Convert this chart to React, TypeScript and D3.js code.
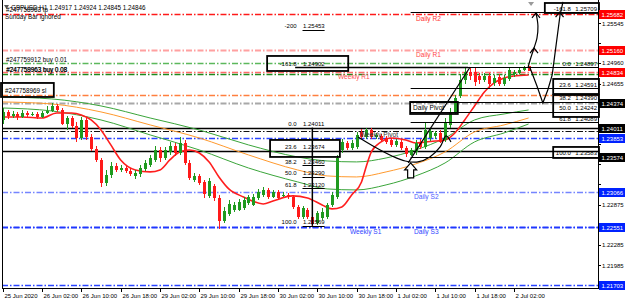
import * as d3 from "d3";
import { useEffect, useRef } from "react";

// GBPUSD H1, bar 0 = 25 Jun 18:00, last bar = 2 Jul 05:00
const barOpen = [
  1.24124, 1.24242, 1.24183, 1.24212, 1.24168, 1.24227, 1.24198, 1.24212, 1.24168, 1.24227,
  1.24256, 1.2433, 1.24271, 1.24065, 1.24153, 1.24036, 1.23859, 1.24124, 1.23874, 1.23698,
  1.23536, 1.23198, 1.23316, 1.23448, 1.23389, 1.23418, 1.23374, 1.23301, 1.2333, 1.23404,
  1.23463, 1.23536, 1.23683, 1.23565, 1.23654, 1.23742, 1.23639, 1.23786, 1.23492, 1.23242,
  1.23301, 1.23213, 1.23007, 1.23154, 1.22977, 1.22639, 1.22742, 1.22801, 1.22801, 1.2283,
  1.22904, 1.22875, 1.22977, 1.23022, 1.23095, 1.22992, 1.23066, 1.23007, 1.23022, 1.22992,
  1.22845, 1.22698, 1.22801, 1.22698, 1.2261, 1.22684, 1.22698, 1.22875, 1.22992, 1.23683,
  1.23786, 1.23712, 1.23727, 1.23948, 1.23874, 1.23977, 1.23874, 1.23889, 1.23859, 1.2383,
  1.23757, 1.23801, 1.23712, 1.2361, 1.23654, 1.23786, 1.23727, 1.23859, 1.23889, 1.23933,
  1.2383, 1.24051, 1.24242, 1.24477, 1.24712, 1.2483, 1.2483, 1.24771, 1.24712, 1.24771,
  1.24668, 1.24756, 1.24653, 1.24727, 1.248, 1.24815, 1.24859, 1.24917,
];
const barHigh = [
  1.243, 1.24271, 1.24256, 1.24242, 1.24271, 1.24256, 1.24242, 1.24242, 1.24256, 1.2433,
  1.24374, 1.24359, 1.243, 1.24183, 1.24183, 1.24095, 1.24168, 1.24153, 1.23918, 1.23742,
  1.23565, 1.23389, 1.23507, 1.23492, 1.23463, 1.23463, 1.23418, 1.23389, 1.23463, 1.23536,
  1.2361, 1.23742, 1.23727, 1.23727, 1.23801, 1.23786, 1.23874, 1.2383, 1.23536, 1.23345,
  1.2333, 1.23242, 1.23272, 1.23183, 1.23022, 1.22845, 1.22948, 1.22919, 1.22963, 1.22992,
  1.23022, 1.23036, 1.2311, 1.23139, 1.23124, 1.23095, 1.23095, 1.23066, 1.23051, 1.23022,
  1.22875, 1.2286, 1.2283, 1.22728, 1.22786, 1.2283, 1.22904, 1.23066, 1.2361, 1.23845,
  1.23815, 1.2383, 1.23948, 1.23992, 1.24011, 1.24007, 1.23933, 1.23918, 1.23889, 1.23859,
  1.23845, 1.2383, 1.23742, 1.23712, 1.2383, 1.23845, 1.24095, 1.24007, 1.23962, 1.23977,
  1.24153, 1.243, 1.24491, 1.248, 1.24888, 1.24888, 1.24888, 1.24815, 1.24815, 1.24815,
  1.24786, 1.248, 1.24786, 1.24897, 1.24859, 1.24888, 1.2492, 1.24924,
];
const barLow = [
  1.24065, 1.24139, 1.24153, 1.24124, 1.24153, 1.24168, 1.24183, 1.24139, 1.24153, 1.24212,
  1.24242, 1.24242, 1.24051, 1.23977, 1.24007, 1.23801, 1.2383, 1.2383, 1.23668, 1.23507,
  1.23139, 1.23154, 1.23272, 1.2336, 1.2336, 1.23345, 1.23301, 1.23257, 1.23286, 1.23374,
  1.23433, 1.23507, 1.23507, 1.23536, 1.2361, 1.23595, 1.2361, 1.23463, 1.23242, 1.23213,
  1.23169, 1.22977, 1.22977, 1.22933, 1.22522, 1.2261, 1.22713, 1.22772, 1.22786, 1.22801,
  1.22875, 1.2286, 1.22948, 1.22992, 1.22963, 1.22977, 1.22948, 1.22992, 1.22963, 1.22816,
  1.22669, 1.22669, 1.22669, 1.22569, 1.22581, 1.22654, 1.22669, 1.22845, 1.22963, 1.23639,
  1.23683, 1.23683, 1.23698, 1.23845, 1.23845, 1.23845, 1.23845, 1.23801, 1.23771, 1.23727,
  1.23727, 1.23683, 1.23583, 1.23595, 1.2361, 1.23698, 1.23698, 1.23815, 1.23845, 1.23786,
  1.23801, 1.24007, 1.24212, 1.24447, 1.24653, 1.24712, 1.24624, 1.24653, 1.24683, 1.24594,
  1.24624, 1.24624, 1.24624, 1.24697, 1.24756, 1.248, 1.24844, 1.24845,
];
const barClose = [
  1.24242, 1.24183, 1.24212, 1.24168, 1.24227, 1.24198, 1.24212, 1.24168, 1.24227, 1.24256,
  1.2433, 1.24271, 1.24065, 1.24153, 1.24036, 1.23859, 1.24124, 1.23874, 1.23698, 1.23536,
  1.23198, 1.23316, 1.23448, 1.23389, 1.23418, 1.23374, 1.2333, 1.23345, 1.23418, 1.23492,
  1.23565, 1.23683, 1.23565, 1.23683, 1.23742, 1.23639, 1.23786, 1.23492, 1.23272, 1.23301,
  1.23198, 1.23036, 1.23227, 1.22977, 1.22639, 1.22786, 1.22889, 1.22875, 1.22919, 1.22948,
  1.22992, 1.22992, 1.23066, 1.23095, 1.22992, 1.23066, 1.22977, 1.23022, 1.22992, 1.22845,
  1.22698, 1.2283, 1.22698, 1.22595, 1.22757, 1.22772, 1.22875, 1.23022, 1.23565, 1.23801,
  1.23712, 1.23786, 1.23904, 1.23874, 1.23977, 1.23874, 1.23904, 1.2383, 1.23801, 1.23757,
  1.23815, 1.23712, 1.23624, 1.23683, 1.23786, 1.23727, 1.23977, 1.23962, 1.23933, 1.23801,
  1.24095, 1.24242, 1.24447, 1.24712, 1.2483, 1.24771, 1.24683, 1.24712, 1.24771, 1.24653,
  1.24741, 1.24653, 1.24741, 1.24859, 1.2483, 1.24859, 1.2491, 1.24846,
];

const timeTickBars = [0, 8, 16, 24, 32, 40, 48, 56, 64, 72, 80, 88, 96, 104];
const timeTickLabels = [
  "25 Jun 2020", "26 Jun 02:00", "26 Jun 10:00", "26 Jun 18:00", "29 Jun 02:00",
  "29 Jun 10:00", "29 Jun 18:00", "30 Jun 02:00", "30 Jun 10:00", "30 Jun 18:00",
  "1 Jul 02:00", "1 Jul 10:00", "1 Jul 18:00", "2 Jul 02:00",
];
const priceTicks = [
  1.25545, 1.2526, 1.2496, 1.24655, 1.2436, 1.24065, 1.23765, 1.2347, 1.23175, 1.22875,
  1.2258, 1.22285, 1.21985,
];

// indicator lines, read at a few bars
const redMaBars = [
  0, 4, 8, 11, 14, 16, 18, 20, 22, 24, 27, 30, 32, 34, 36, 38, 40, 42, 44, 46, 49, 53, 55, 59,
  62, 65, 67, 69, 71, 73, 74, 75, 77, 79, 82, 84, 86, 88, 90, 92, 94, 96, 98, 100, 102, 104, 107,
];
const redMaValues = [
  1.24168, 1.24168, 1.24153, 1.24227, 1.24227, 1.24198, 1.24124, 1.23977, 1.23757, 1.23536,
  1.23389, 1.2336, 1.23389, 1.23536, 1.23654, 1.23683, 1.23639, 1.23507, 1.23286, 1.2311,
  1.22992, 1.22889, 1.22933, 1.23007, 1.22977, 1.22875, 1.22816, 1.22845, 1.23022, 1.23213,
  1.23448, 1.23654, 1.23801, 1.23859, 1.2383, 1.23786, 1.23801, 1.23815, 1.2383, 1.23933,
  1.24124, 1.2433, 1.24536, 1.24668, 1.24741, 1.24771, 1.24785,
];
const bandBars = [0, 10, 20, 30, 40, 50, 60, 66, 72, 78, 84, 90, 96, 102, 107];
const bandUpper = [
  1.24462, 1.24433, 1.2433, 1.24153, 1.23977, 1.23757, 1.2358, 1.23521, 1.23507, 1.23565,
  1.23683, 1.23859, 1.24124, 1.24212, 1.24271,
];
const bandMiddle = [
  1.24389, 1.24359, 1.24242, 1.24051, 1.23859, 1.2361, 1.23389, 1.23301, 1.23286, 1.2336,
  1.23477, 1.23654, 1.23948, 1.24051, 1.24153,
];
const bandLower = [
  1.243, 1.24256, 1.24124, 1.23904, 1.23683, 1.23418, 1.23213, 1.2311, 1.23095, 1.23169,
  1.23301, 1.23492, 1.23801, 1.23933, 1.24065,
];

const pivotNames = ["Daily R2", "Daily R1", "Weekly R1", "Daily Pivot", "Weekly Pivot", "Daily S2", "Weekly S1", "Daily S3"];
const pivotPrices = [1.25682, 1.2516, 1.24834, 1.24374, 1.23962, 1.23066, 1.22551, 1.22551];

const orderLabels = ["#247759912 buy 0.01", "#247758963 buy 0.08", "#247758969 sl"];
const orderPrices = [1.24962, 1.248, 1.24491];

const leftFibNames = ["-200", "-161.8", "0.0", "23.6", "38.2", "50.0", "61.8", "100.0"];
const leftFibPrices = [1.25453, 1.24902, 1.24011, 1.23674, 1.2346, 1.2329, 1.2312, 1.22569];
const rightFibNames = ["-161.8", "0.0", "23.6", "38.2", "50.0", "61.8", "100.0"];
const rightFibPrices = [1.25709, 1.24897, 1.24591, 1.2439, 1.24242, 1.24089, 1.23583];

const markerPrices = [1.25682, 1.2516, 1.24834, 1.24374, 1.24011, 1.23853, 1.23574, 1.23066, 1.22551, 1.21703];
const markerKinds = ["r", "r", "r", "k", "k", "b", "k", "b", "b", "b"];

// label frames (bar from, bar to, price top, price bottom)
const boxFrom = [53.8, 54.4, 82.9, -0.4, 110.3, 112, 112, 112];
const boxTo = [70.3, 68.6, 92.6, 10.4, 121.5, 121.5, 121.5, 121.5];
const boxTop = [1.25065, 1.2383, 1.24389, 1.24668, 1.25844, 1.24727, 1.24491, 1.23727];
const boxBottom = [1.24844, 1.2358, 1.24212, 1.24462, 1.25697, 1.24506, 1.24168, 1.23565];

// hand drawn strokes
const swoopBars = [72.3, 75.7, 79.2, 81.9, 84.5, 86.9, 89.0, 90.2, 91.2];
const swoopPrices = [1.23874, 1.23727, 1.23595, 1.23521, 1.23507, 1.2358, 1.23727, 1.23889, 1.23801];
const riseBars = [82.5, 95.1];
const risePrices = [1.23492, 1.24903];
const upBars = [106.9, 107.5, 108.1, 108.7, 108.9, 108.5];
const upPrices = [1.24903, 1.2505, 1.25182, 1.25329, 1.25506, 1.25697];
const vBars = [107.3, 108.7, 109.9, 110.9, 111.8, 112.6, 113.4, 114.0];
const vPrices = [1.24888, 1.24624, 1.24374, 1.24565, 1.24786, 1.25227, 1.25668, 1.25859];
const capBars = [108.1, 108.5, 113.3];
const capPrices = [1.25182, 1.25697, 1.2571];

const FONT = "Liberation Sans, Arial, sans-serif";
const DASHDOT = "6,2,1.5,2";

const pivotStyle: Record<string, { stroke: string; width: number; text: string; lx: number; dy: number }> = {
  "Daily R2": { stroke: "#ff1a1a", width: 1.5, text: "#ff3030", lx: 416, dy: 7 },
  "Daily R1": { stroke: "#ffa0a0", width: 2, text: "#ff4848", lx: 416, dy: 7 },
  "Weekly R1": { stroke: "#ff6a6a", width: 1.5, text: "#ff5050", lx: 338, dy: 7 },
  "Daily Pivot": { stroke: "#a8a8a8", width: 2, text: "#000", lx: 413, dy: 7 },
  "Weekly Pivot": { stroke: "#111", width: 1, text: "#333", lx: 360, dy: 6 },
  "Daily S2": { stroke: "#7585ff", width: 1.5, text: "#4c5cff", lx: 414, dy: 7 },
  "Weekly S1": { stroke: "#2038ff", width: 2, text: "#3044ff", lx: 350, dy: 7 },
  "Daily S3": { stroke: "#2038ff", width: 1, text: "#3044ff", lx: 414, dy: 7 },
};
const orderColors = ["#5cb85c", "#1e8c1e", "#ff7f3f"];
const markerFill: Record<string, string> = { r: "#ff0000", k: "#000000", b: "#0022ff" };

export default function App() {
  const ref = useRef<SVGSVGElement>(null);

  useEffect(() => {
    const svg = d3.select(ref.current!);
    svg.selectAll("*").remove();

    const x = d3.scaleLinear().domain([0, 121]).range([2.7, 2.7 + 121 * 4.915]);
    const y = d3.scaleLinear().domain([1.21653, 1.25888]).range([288, 0]);
    const cy = (p: number) => Math.round(y(p)) + 0.5;

    svg.append("rect").attr("width", 625).attr("height", 300).attr("fill", "#fff");
    svg.append("defs").append("clipPath").attr("id", "plotClip")
      .append("rect").attr("x", 2).attr("y", 0).attr("width", 596).attr("height", 288);
    const plot = svg.append("g").attr("clip-path", "url(#plotClip)");

    const hline = (p: number, color: string, w: number, dash: string | null, x0 = 2, x1 = 598) =>
      plot.append("line")
        .attr("x1", x0).attr("x2", x1).attr("y1", cy(p)).attr("y2", cy(p))
        .attr("stroke", color).attr("stroke-width", w)
        .attr("stroke-dasharray", dash);

    const label = (g: any, tx: number, ty: number, s: string, color = "#000", size = 6.3, anchor = "start") =>
      g.append("text").attr("x", tx).attr("y", ty).attr("fill", color)
        .attr("font-family", FONT).attr("font-size", size).attr("text-anchor", anchor).text(s);

    // horizontal levels
    hline(1.24011, "#000", 1.5, null);
    hline(1.23674, "#000", 1.5, null);
    hline(1.23853, "#2a45ff", 1.5, DASHDOT);
    hline(1.21703, "#2a45ff", 1.5, DASHDOT);
    orderPrices.forEach((p, i) => hline(p, orderColors[i], 1.5, DASHDOT));
    pivotNames.forEach((n, i) => {
      const st = pivotStyle[n];
      hline(pivotPrices[i], st.stroke, st.width, DASHDOT);
    });

    // indicator lines
    const bandLine = (vals: number[]) =>
      d3.line<number>().x((_, i) => x(bandBars[i])).y((v) => y(v)).curve(d3.curveMonotoneX)(vals);
    plot.append("path").attr("d", bandLine(bandUpper)).attr("fill", "none").attr("stroke", "#3aa53a").attr("stroke-width", 1);
    plot.append("path").attr("d", bandLine(bandMiddle)).attr("fill", "none").attr("stroke", "#ff9a2e").attr("stroke-width", 1);
    plot.append("path").attr("d", bandLine(bandLower)).attr("fill", "none").attr("stroke", "#3aa53a").attr("stroke-width", 1);
    const redLine = d3.line<number>().x((_, i) => x(redMaBars[i])).y((v) => y(v)).curve(d3.curveMonotoneX);
    plot.append("path").attr("d", redLine(redMaValues)).attr("fill", "none").attr("stroke", "#ff1e1e").attr("stroke-width", 1.6);

    // candles
    const candles = plot.append("g").attr("shape-rendering", "crispEdges");
    barOpen.forEach((o, i) => {
      const c = barClose[i];
      const col = c >= o ? "#1f9a1f" : "#ff1a1a";
      const cx = Math.round(x(i)) + 0.5;
      candles.append("line").attr("x1", cx).attr("x2", cx)
        .attr("y1", y(barHigh[i])).attr("y2", y(barLow[i])).attr("stroke", col).attr("stroke-width", 1);
      const top = y(Math.max(o, c));
      const h = Math.max(1, y(Math.min(o, c)) - top);
      candles.append("rect").attr("x", cx - 1.5).attr("y", top).attr("width", 3).attr("height", h).attr("fill", col);
    });

    // left fibonacci
    leftFibPrices.forEach((p, i) => {
      const name = leftFibNames[i];
      const x0 = name === "-161.8" ? x(59.5) : x(61);
      const x1 = name === "-161.8" ? x(94.7) : x(65.5);
      plot.append("line").attr("x1", x0).attr("x2", x1).attr("y1", cy(p)).attr("y2", cy(p))
        .attr("stroke", "#000").attr("stroke-width", name === "-161.8" ? 1.5 : 1);
      label(plot, x(59.8), y(p) - 1.5, name, "#000", 6, "end");
      label(plot, x(61.1), y(p) - 1.5, p.toFixed(5), "#000", 6);
    });
    plot.append("line").attr("x1", x(63)).attr("x2", x(63))
      .attr("y1", y(leftFibPrices[2])).attr("y2", y(leftFibPrices[7]))
      .attr("stroke", "#000").attr("stroke-width", 1.5);

    // right fibonacci
    rightFibPrices.forEach((p, i) => {
      plot.append("line").attr("x1", x(83)).attr("x2", 598).attr("y1", cy(p)).attr("y2", cy(p))
        .attr("stroke", "#000").attr("stroke-width", 1);
      label(plot, x(115.6), y(p) - 1.5, rightFibNames[i], "#000", 6, "end");
      label(plot, x(116.5), y(p) - 1.5, p.toFixed(5), "#000", 6);
    });

    // pivot and order labels
    pivotNames.forEach((n, i) => {
      const st = pivotStyle[n];
      label(plot, st.lx, y(pivotPrices[i]) + st.dy, n, st.text, 6.6);
    });
    label(plot, 6, y(orderPrices[0]) - 1, orderLabels[0], "#000", 6.3);
    label(plot, 6, y(orderPrices[1]) - 2, orderLabels[1], "#000", 6.3);
    label(plot, 6.4, y(orderPrices[1]) - 2, "#247759963 buy 0.08", "#000", 6.3);
    label(plot, 5, y(orderPrices[2]) - 2, orderLabels[2], "#000", 6.3);

    // frames
    boxFrom.forEach((b, i) => {
      const x0 = Math.max(1, x(b));
      const x1 = Math.min(599, x(boxTo[i]));
      svg.append("rect").attr("x", x0).attr("y", y(boxTop[i]))
        .attr("width", x1 - x0).attr("height", y(boxBottom[i]) - y(boxTop[i]))
        .attr("fill", "none").attr("stroke", "#000").attr("stroke-width", 1.8);
    });

    // hand drawn strokes
    const stroke = (bars: number[], prices: number[], curve: any) =>
      plot.append("path")
        .attr("d", d3.line<number>().x((_, i) => x(bars[i])).y((p) => y(p)).curve(curve)(prices))
        .attr("fill", "none").attr("stroke", "#000").attr("stroke-width", 1.2);
    stroke(swoopBars, swoopPrices, d3.curveCatmullRom);
    stroke(riseBars, risePrices, d3.curveLinear);
    stroke(upBars, upPrices, d3.curveCatmullRom);
    stroke(vBars, vPrices, d3.curveLinear);
    capBars.forEach((b, i) => {
      const px = x(b), py = y(capPrices[i]);
      plot.append("path").attr("d", `M${px - 4},${py + 5}L${px},${py}L${px + 4},${py + 5}`)
        .attr("fill", "none").attr("stroke", "#000").attr("stroke-width", 1.2);
    });
    const ax = x(83), ay = y(1.23492);
    plot.append("path")
      .attr("d", `M${ax},${ay}L${ax - 6},${ay + 7}L${ax - 3},${ay + 7}L${ax - 3},${ay + 15}L${ax + 3},${ay + 15}L${ax + 3},${ay + 7}L${ax + 6},${ay + 7}Z`)
      .attr("fill", "#fff").attr("stroke", "#000").attr("stroke-width", 1.2);
    plot.append("path").attr("d", `M${x(107.5) - 3},2L${x(107.5) + 3},2L${x(107.5)},6Z`).attr("fill", "#9a9a9a");

    // header
    svg.append("path").attr("d", "M4,5L9,5L6.5,9Z").attr("fill", "#555");
    label(svg, 6, 12, "#247758963 tp", "#000", 6.3);
    label(svg, 11, 9.5, "GBPUSD,H1  1.24917 1.24924 1.24845 1.24846", "#000", 6.3);
    label(svg, 5, 19, "Sunday Bar ignored", "#000", 6.3);

    // frame and axes
    svg.append("line").attr("x1", 2.5).attr("x2", 2.5).attr("y1", 0).attr("y2", 288).attr("stroke", "#000");
    svg.append("line").attr("x1", 598.5).attr("x2", 598.5).attr("y1", 0).attr("y2", 289).attr("stroke", "#000");
    svg.append("line").attr("x1", 2).attr("x2", 599).attr("y1", 288.5).attr("y2", 288.5).attr("stroke", "#000");

    timeTickBars.forEach((b, i) => {
      const tx = Math.round(x(b)) + 0.5;
      svg.append("line").attr("x1", tx).attr("x2", tx).attr("y1", 288).attr("y2", 292).attr("stroke", "#000");
      label(svg, tx + 1, 297.5, timeTickLabels[i], "#000", 6);
    });
    // grid prices hidden behind a highlighted marker are not labelled
    priceTicks.forEach((p) => {
      svg.append("line").attr("x1", 598).attr("x2", 601).attr("y1", cy(p)).attr("y2", cy(p)).attr("stroke", "#000");
      const covered = markerPrices.some((m) => Math.abs(y(m) - y(p)) < 8);
      if (!covered) label(svg, 602, y(p) + 2.2, p.toFixed(5), "#000", 6);
    });
    markerPrices.forEach((p, i) => {
      const my = Math.round(y(p));
      svg.append("rect").attr("x", 599).attr("y", my - 4).attr("width", 26).attr("height", 9)
        .attr("fill", markerFill[markerKinds[i]]);
      label(svg, 601.5, my + 2.5, p.toFixed(5), "#fff", 6);
    });
  }, []);

  return (
    <svg
      ref={ref}
      width={625}
      height={300}
      style={{ position: "absolute", left: 0, top: 0, display: "block" }}
    />
  );
}
